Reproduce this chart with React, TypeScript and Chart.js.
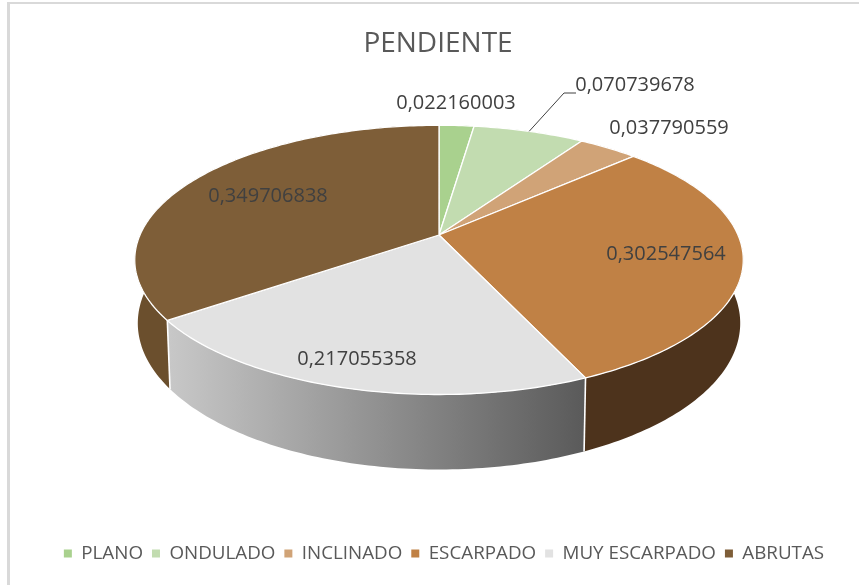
import React, { useEffect, useRef } from "react";
import { Chart, registerables } from "chart.js";

Chart.register(...registerables);

const categories = ["PLANO", "ONDULADO", "INCLINADO", "ESCARPADO", "MUY ESCARPADO", "ABRUTAS"];
const values = [0.022160003, 0.070739678, 0.037790559, 0.302547564, 0.217055358, 0.349706838];
const valueLabels = ["0,022160003", "0,070739678", "0,037790559", "0,302547564", "0,217055358", "0,349706838"];
const topColors = ["#a9d18e", "#c2dcb0", "#d0a377", "#c08145", "#e2e2e2", "#7e5e38"];
const wallColors = ["#7f9d6a", "#94a887", "#9c7a59", "#4d331c", "#888888", "#6b4f2d"];
const labelCentres = [[456, 103], [635, 85], [669, 128], [666, 254], [357, 359], [268, 196]];

const CX = 439, CY = 235, RX = 299, RY = 130, K = 0.185, DEPTH = 75, BOTTOM_SCALE = 0.99;
const FONT = '"Open Sans", sans-serif';

type P = [number, number];
const top3d = (theta: number, f = 1): P => {
  const u = Math.sin(theta) * f, v = -Math.cos(theta) * f;
  const w = 1 - K * v;
  return [CX + (RX * u) / w, CY + (RY * v) / w];
};
const bottom3d = (theta: number): P => {
  const u = Math.sin(theta), v = -Math.cos(theta);
  const w = 1 - K * v;
  return [CX + (BOTTOM_SCALE * RX * u) / w, CY + (RY * v) / w + (DEPTH * (1 - K)) / w];
};
const sample = (a: number, b: number) => {
  const n = Math.max(2, Math.ceil((b - a) * 60));
  const out: number[] = [];
  for (let i = 0; i <= n; i++) out.push(a + ((b - a) * i) / n);
  return out;
};

const pie3d = {
  id: "pie3d",
  afterLayout(chart: any) {
    if (chart.legend) {
      chart.legend.left += 6;
      chart.legend.right += 6;
    }
  },
  beforeDatasetsDraw(chart: any) {
    const ctx: CanvasRenderingContext2D = chart.ctx;
    const arcs = chart.getDatasetMeta(0).data.map((el: any, i: number) => ({
      i,
      a: el.startAngle + Math.PI / 2,
      b: el.endAngle + Math.PI / 2,
    }));

    ctx.save();
    ctx.lineJoin = "round";
    // side walls, far slices first
    const order = [...arcs].sort(
      (p: any, q: any) => -Math.cos((p.a + p.b) / 2) - -Math.cos((q.a + q.b) / 2)
    );
    for (const s of order) {
      const ts = sample(s.a, s.b);
      ctx.beginPath();
      ts.forEach((t, k) => {
        const [x, y] = top3d(t);
        k ? ctx.lineTo(x, y) : ctx.moveTo(x, y);
      });
      [...ts].reverse().forEach((t) => {
        const [x, y] = bottom3d(t);
        ctx.lineTo(x, y);
      });
      ctx.closePath();
      if (s.i === 4) {
        const g = ctx.createLinearGradient(168, 0, 585, 0);
        g.addColorStop(0, "#c8c8c8");
        g.addColorStop(1, "#5a5a5a");
        ctx.fillStyle = g;
      } else {
        ctx.fillStyle = wallColors[s.i];
      }
      ctx.fill();
    }
    // white seams on the front of the wall
    ctx.strokeStyle = "#ffffff";
    ctx.lineWidth = 1.6;
    for (const s of arcs) {
      if (-Math.cos(s.b) > 0.2) {
        const [x0, y0] = top3d(s.b);
        const [x1, y1] = bottom3d(s.b);
        ctx.beginPath();
        ctx.moveTo(x0, y0);
        ctx.lineTo(x1, y1);
        ctx.stroke();
      }
    }
    // top faces
    for (const s of arcs) {
      ctx.beginPath();
      ctx.moveTo(CX, CY);
      sample(s.a, s.b).forEach((t) => {
        const [x, y] = top3d(t);
        ctx.lineTo(x, y);
      });
      ctx.closePath();
      ctx.fillStyle = topColors[s.i];
      ctx.fill();
      ctx.lineWidth = 1.3;
      ctx.stroke();
    }
    // leader line of the second slice
    const lead = arcs[1];
    const [lx, ly] = top3d((lead.a + lead.b) / 2);
    ctx.strokeStyle = "#404040";
    ctx.lineWidth = 1;
    ctx.beginPath();
    ctx.moveTo(lx, ly);
    ctx.lineTo(564, 93);
    ctx.lineTo(576, 93);
    ctx.stroke();
    // value labels
    ctx.fillStyle = "#404040";
    ctx.font = `20px ${FONT}`;
    ctx.textAlign = "center";
    ctx.textBaseline = "middle";
    valueLabels.forEach((t, i) => ctx.fillText(t, labelCentres[i][0], labelCentres[i][1]));
    ctx.restore();
    return false;
  },
};

export default function App() {
  const ref = useRef<HTMLCanvasElement>(null);
  useEffect(() => {
    document.body.style.margin = "0";
    const chart = new Chart(ref.current!, {
      type: "pie",
      data: {
        labels: categories,
        datasets: [{ data: values, backgroundColor: topColors, borderWidth: 0 }],
      },
      options: {
        responsive: false,
        animation: false,
        layout: { padding: { left: 17, bottom: 12 } },
        plugins: {
          tooltip: { enabled: false },
          title: {
            display: true,
            text: "PENDIENTE",
            color: "#595959",
            font: { family: FONT, size: 28, weight: "normal" },
            padding: { top: 27, bottom: 10 },
          },
          legend: {
            position: "bottom",
            labels: {
              boxWidth: 8,
              boxHeight: 8,
              padding: 9,
              color: "#595959",
              font: { family: FONT, size: 18.8 },
            },
          },
        },
      },
      plugins: [pie3d],
    } as any);
    return () => chart.destroy();
  }, []);
  return (
    <div style={{ position: "relative", width: 859, height: 585, overflow: "hidden", background: "#fff" }}>
      <div style={{ position: "absolute", left: 7, top: 2, right: -10, bottom: -10, borderLeft: "3px solid #d9d9d9", borderTop: "2px solid #d9d9d9" }} />
      <canvas ref={ref} width={859} height={585} style={{ position: "absolute", left: 0, top: 0, display: "block" }} />
    </div>
  );
}
